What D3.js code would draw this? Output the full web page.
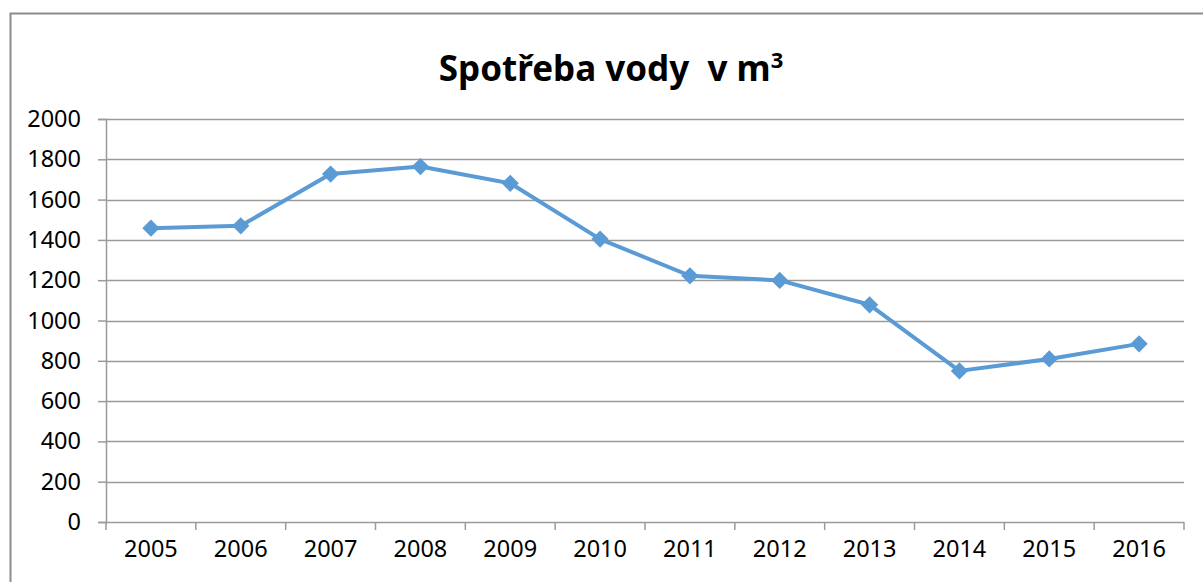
<!DOCTYPE html>
<html>
<head>
<meta charset="utf-8">
<script src="https://cdn.jsdelivr.net/npm/d3@7"></script>
<style>
  html, body { margin: 0; padding: 0; background: #fff; }
  svg { display: block; }
</style>
</head>
<body>
<div id="chart"></div>
<script>
// data
var years = ["2005", "2006", "2007", "2008", "2009", "2010", "2011", "2012", "2013", "2014", "2015", "2016"];
var spotreba = [1458, 1470, 1727, 1764, 1681, 1404, 1222, 1199, 1078, 750, 809, 884];
var yTicks = [0, 200, 400, 600, 800, 1000, 1200, 1400, 1600, 1800, 2000];
var title = "Spotřeba vody  v m";

var width = 1203;
var height = 582;
var margin = {top: 119, right: 19, bottom: 60, left: 106};

var lineColor = "#5B9BD5";
var gridColor = "#9a9a9a";
var font = "'Noto Sans', sans-serif";

var svg = d3.select("#chart")
  .append("svg")
  .attr("width", width)
  .attr("height", height);

// outer chart frame
svg.append("rect")
  .attr("x", 10.5)
  .attr("y", 13.5)
  .attr("width", width + 20)
  .attr("height", height + 20)
  .attr("fill", "none")
  .attr("stroke", "#8c8c8c")
  .attr("stroke-width", 2);

// title (keep the double space)
var t = svg.append("text")
  .attr("x", 611)
  .attr("y", 81)
  .attr("text-anchor", "middle")
  .style("white-space", "pre")
  .style("font-family", font)
  .style("font-weight", "bold")
  .style("font-size", "35px")
  .attr("fill", "#000")
  .text(title);
t.append("tspan")
  .attr("dy", -13)
  .style("font-size", "22px")
  .text("3");

var plotW = width - margin.left - margin.right;
var plotH = height - margin.top - margin.bottom;

var g = svg.append("g")
  .attr("transform", "translate(" + margin.left + "," + margin.top + ")");

var x = d3.scaleBand()
  .domain(years)
  .range([0, plotW]);

var y = d3.scaleLinear()
  .domain([0, 2000])
  .range([plotH, 0]);

// horizontal gridlines
g.append("g")
  .selectAll("line")
  .data(yTicks.filter(function(d){ return d > 0 }))
  .enter()
  .append("line")
    .attr("x1", 0)
    .attr("x2", plotW)
    .attr("y1", function(d){ return Math.round(y(d)) + 0.5 })
    .attr("y2", function(d){ return Math.round(y(d)) + 0.5 })
    .attr("stroke", gridColor)
    .attr("stroke-width", 1.5);

// y axis
var yAxis = g.append("g")
  .call(d3.axisLeft(y).tickValues(yTicks).tickSize(8).tickPadding(17).tickFormat(d3.format("d")));
yAxis.select(".domain").attr("stroke", gridColor).attr("stroke-width", 1.5);
yAxis.selectAll(".tick line").attr("stroke", gridColor).attr("stroke-width", 1.5);
yAxis.selectAll("text")
  .style("font-family", font)
  .style("font-size", "23.5px")
  .attr("fill", "#000");

// x axis - ticks on band boundaries
var xAxis = g.append("g")
  .attr("transform", "translate(0," + plotH + ")");
xAxis.append("line")
  .attr("x1", 0)
  .attr("x2", plotW)
  .attr("y1", 0.5)
  .attr("y2", 0.5)
  .attr("stroke", gridColor)
  .attr("stroke-width", 1.5);
xAxis.selectAll(".xtick")
  .data(years.concat(["end"]))
  .enter()
  .append("line")
    .attr("class", "xtick")
    .attr("x1", function(d){ return d == "end" ? plotW : x(d) })
    .attr("x2", function(d){ return d == "end" ? plotW : x(d) })
    .attr("y1", 0)
    .attr("y2", 8)
    .attr("stroke", gridColor)
    .attr("stroke-width", 1.5);
xAxis.selectAll(".xlabel")
  .data(years)
  .enter()
  .append("text")
    .attr("class", "xlabel")
    .attr("x", function(d){ return x(d) + x.bandwidth() / 2 })
    .attr("y", 35)
    .attr("text-anchor", "middle")
    .style("font-family", font)
    .style("font-size", "23.5px")
    .attr("fill", "#000")
    .text(function(d){ return d });

// the line
var pts = years.map(function(d, i){ return {year: d, value: spotreba[i]} });

g.append("path")
  .datum(pts)
  .attr("fill", "none")
  .attr("stroke", lineColor)
  .attr("stroke-width", 4)
  .attr("stroke-linejoin", "round")
  .attr("d", d3.line()
    .x(function(d){ return x(d.year) + x.bandwidth() / 2 })
    .y(function(d){ return y(d.value) }));

// diamond markers
g.selectAll(".marker")
  .data(pts)
  .enter()
  .append("path")
    .attr("class", "marker")
    .attr("transform", function(d){ return "translate(" + (x(d.year) + x.bandwidth() / 2) + "," + y(d.value) + ")" })
    .attr("d", d3.symbol().type(d3.symbolDiamond2).size(190))
    .attr("fill", lineColor);
</script>
</body>
</html>
